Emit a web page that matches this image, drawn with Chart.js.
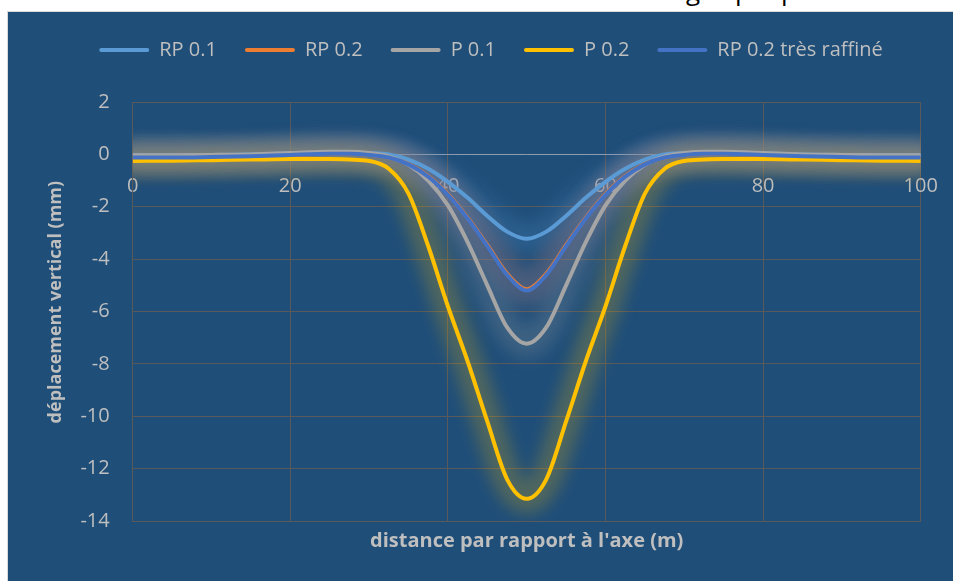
<!DOCTYPE html>
<html>
<head>
<meta charset="utf-8">
<title>Déplacement vertical</title>
<script src="https://cdn.jsdelivr.net/npm/chart.js@4.4.0/dist/chart.umd.min.js"></script>
<style>
  html, body { margin: 0; padding: 0; background: #fff; width: 953px; height: 581px; overflow: hidden; }
  .cut { position: absolute; top: -23px; font: 26px/26px 'Open Sans', sans-serif; color: #000; }
  #frame { position: absolute; left: 7px; top: 11px; width: 946px; height: 570px; background: #1F4E79; border-left: 1px solid #d9d9d9; border-top: 1px solid #d9d9d9; z-index: 1; }
  #chart { position: absolute; left: 8px; top: 12px; z-index: 2; }
</style>
</head>
<body>
<span class="cut" style="left:686px">g</span>
<span class="cut" style="left:735px">p</span>
<span class="cut" style="left:781px">p</span>
<div id="frame"></div>
<canvas id="chart" width="945" height="569"></canvas>
<script>
// distance par rapport à l'axe (m)
const distances = [0, 5, 10, 15, 20, 25, 27.5, 30, 32.5, 35, 37.5, 40, 42.5, 45, 47.5, 50,
  52.5, 55, 57.5, 60, 62.5, 65, 67.5, 70, 72.5, 75, 80, 85, 90, 95, 100];

// déplacement vertical (mm)
const rp01 = [-0.03, -0.03, -0.02, 0, 0.04, 0.08, 0.08, 0.05, 0, -0.2, -0.55, -1.05, -1.66, -2.35, -2.95, -3.22,
  -2.95, -2.35, -1.66, -1.05, -0.55, -0.2, 0, 0.05, 0.08, 0.08, 0.04, 0, -0.02, -0.03, -0.03];
const rp02 = [-0.12, -0.12, -0.1, -0.07, -0.02, 0.02, 0.02, -0.02, -0.12, -0.37, -0.83, -1.52, -2.42, -3.46, -4.55, -5.15,
  -4.55, -3.46, -2.42, -1.52, -0.83, -0.37, -0.12, -0.02, 0.02, 0.02, -0.02, -0.07, -0.1, -0.12, -0.12];
const p01 = [-0.03, -0.03, -0.02, 0, 0.05, 0.1, 0.1, 0.05, -0.08, -0.4, -1.0, -1.95, -3.35, -5.0, -6.6, -7.23,
  -6.6, -5.0, -3.35, -1.95, -1.0, -0.4, -0.08, 0.05, 0.1, 0.1, 0.05, 0, -0.02, -0.03, -0.03];
const p02 = [-0.25, -0.24, -0.22, -0.2, -0.18, -0.18, -0.2, -0.25, -0.55, -1.5, -3.5, -5.8, -7.9, -10.2, -12.4, -13.15,
  -12.4, -10.2, -7.9, -5.8, -3.5, -1.5, -0.55, -0.25, -0.2, -0.18, -0.18, -0.2, -0.22, -0.24, -0.25];
const rp02Raffine = [-0.12, -0.12, -0.1, -0.07, -0.02, 0.02, 0.02, -0.02, -0.12, -0.38, -0.85, -1.55, -2.45, -3.5, -4.6, -5.2,
  -4.6, -3.5, -2.45, -1.55, -0.85, -0.38, -0.12, -0.02, 0.02, 0.02, -0.02, -0.07, -0.1, -0.12, -0.12];

const seriesNames = ['RP 0.1', 'RP 0.2', 'P 0.1', 'P 0.2', 'RP 0.2 très raffiné'];
const seriesValues = [rp01, rp02, p01, p02, rp02Raffine];
const seriesColors = ['#5B9BD5', '#ED7D31', '#A5A5A5', '#FFC000', '#4472C4'];

const TEXT = '#BFBFBF';
const GRID = '#595959';

Chart.defaults.font.family = "'Open Sans', sans-serif";
Chart.defaults.font.size = 20;
Chart.defaults.color = TEXT;

const hexToRgba = (hex, a) => {
  const n = parseInt(hex.slice(1), 16);
  return `rgba(${(n >> 16) & 255},${(n >> 8) & 255},${n & 255},${a})`;
};

// soft halo under the curves, like the Excel glow effect (all halos first, lines on top)
const glowPlugin = {
  id: 'glow',
  beforeDatasetsDraw(chart) {
    const { ctx, chartArea } = chart;
    const metas = chart.getSortedVisibleDatasetMetas();
    ctx.save();
    ctx.beginPath();
    ctx.rect(chartArea.left, chartArea.top, chartArea.width, chartArea.height);
    ctx.clip();
    ctx.filter = 'blur(8px)';
    for (let k = metas.length - 1; k >= 0; k--) {
      const meta = metas[k];
      const line = meta.dataset;
      if (!line || !line.points || !line.points.length) continue;
      line.updateControlPoints(chartArea, 'x');
      ctx.beginPath();
      line.path(ctx);
      ctx.lineWidth = 30;
      ctx.lineJoin = 'round';
      ctx.lineCap = 'round';
      ctx.strokeStyle = hexToRgba(seriesColors[meta.index], 0.22);
      ctx.stroke();
    }
    ctx.restore();
  }
};

// room between legend and plot
const legendSpacer = {
  id: 'legendSpacer',
  beforeInit(chart) {
    const fit = chart.legend.fit;
    chart.legend.fit = function () {
      fit.call(this);
      this.height = 90;
    };
  }
};

const datasets = seriesNames.map((name, i) => ({
  label: name,
  data: distances.map((d, j) => ({ x: d, y: seriesValues[i][j] })),
  borderColor: seriesColors[i],
  backgroundColor: seriesColors[i],
  borderWidth: 4,
  pointRadius: 0,
  showLine: true,
  fill: false,
  cubicInterpolationMode: 'monotone',
  order: seriesNames.length - i
}));

new Chart(document.getElementById('chart'), {
  type: 'scatter',
  data: { datasets },
  plugins: [glowPlugin, legendSpacer],
  options: {
    responsive: false,
    animation: false,
    devicePixelRatio: 1,
    layout: { padding: { left: 21, right: 0, top: 0, bottom: 0 } },
    plugins: {
      tooltip: { enabled: false },
      legend: {
        position: 'top',
        labels: {
          color: TEXT,
          font: { size: 20 },
          boxWidth: 50,
          boxHeight: 4,
          padding: 28,
          sort: (a, b) => a.datasetIndex - b.datasetIndex,
          generateLabels(chart) {
            return Chart.defaults.plugins.legend.labels.generateLabels(chart).map(item => ({
              ...item,
              lineWidth: 0,
              borderRadius: 2
            }));
          }
        }
      }
    },
    scales: {
      x: {
        type: 'linear',
        position: 'bottom',
        min: 0,
        max: 100,
        ticks: { display: false, stepSize: 20 },
        grid: { color: GRID, lineWidth: 1, drawTicks: false },
        border: { color: GRID },
        title: {
          display: true,
          text: "distance par rapport à l'axe (m)",
          color: TEXT,
          font: { size: 20, weight: 'bold' },
          padding: { top: 0, bottom: 28 }
        },
        afterFit(scale) { scale.height = 60; }
      },
      xAxe: {
        type: 'linear',
        axis: 'x',
        position: { y: 0 },
        z: 1,
        min: 0,
        max: 100,
        ticks: { stepSize: 20, padding: 3, color: TEXT, font: { size: 20 } },
        grid: { display: false, drawTicks: true, tickLength: 17 },
        border: { display: true, color: '#8C9DB2', width: 1 }
      },
      y: {
        type: 'linear',
        position: 'left',
        min: -14,
        max: 2,
        ticks: { stepSize: 2, padding: 23, color: TEXT, font: { size: 20 } },
        grid: { color: GRID, lineWidth: 1, drawTicks: false },
        border: { color: GRID },
        title: {
          display: true,
          text: '    déplacement vertical (mm)',
          color: TEXT,
          font: { size: 18, weight: 'bold' },
          padding: { top: 16, bottom: 0 }
        },
        afterFit(scale) { scale.width = 103.7; }
      },
      yRight: {
        type: 'linear',
        position: 'right',
        min: -14,
        max: 2,
        ticks: { display: false },
        grid: { display: false, drawTicks: false },
        border: { display: false },
        afterFit(scale) { scale.width = 32.3; }
      }
    }
  }
});
</script>
</body>
</html>
